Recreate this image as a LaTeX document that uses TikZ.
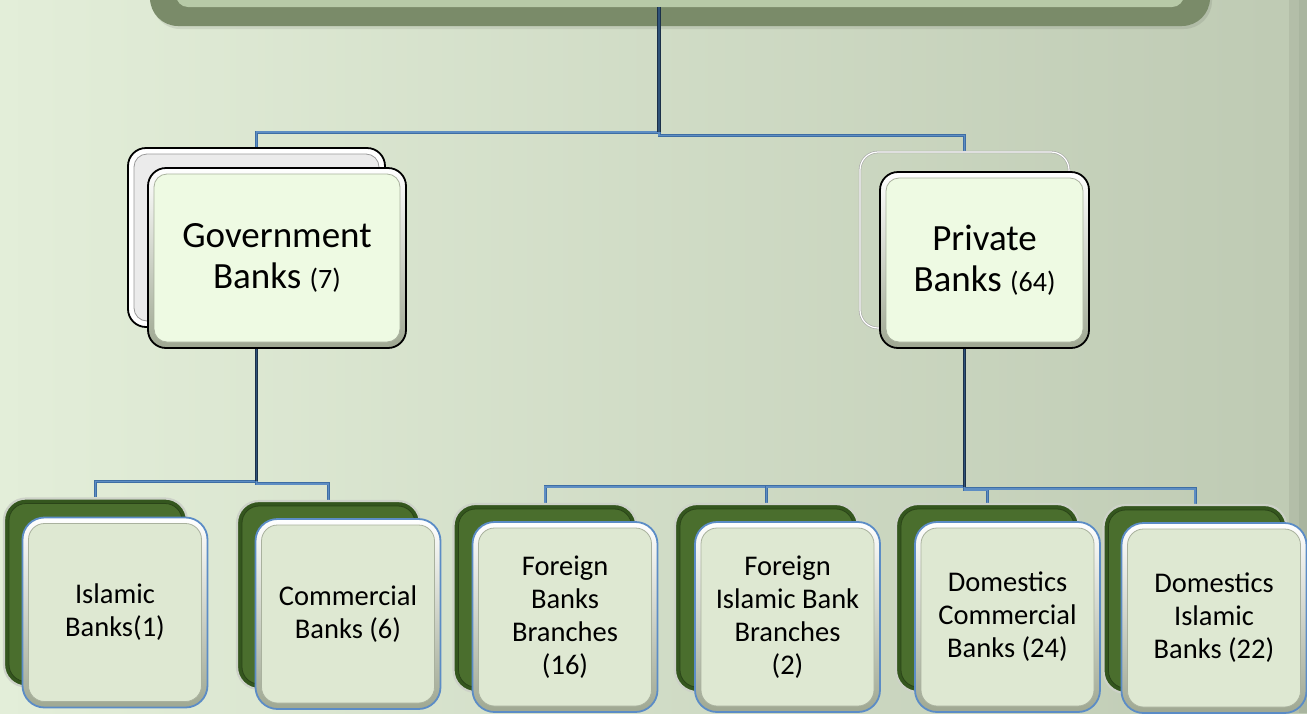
\documentclass[tikz,border=0pt]{standalone}
\usepackage{fontspec}
\setmainfont{Carlito}
\usetikzlibrary{calc}
\pgfdeclarelayer{bg}
\pgfdeclarelayer{links}
\pgfsetlayers{bg,links,main}

\definecolor{bgL}{HTML}{E3EED9}
\definecolor{bgR}{HTML}{BECAB3}
\definecolor{stripA}{HTML}{B3BEA8}
\definecolor{stripB}{HTML}{A9B59F}
\definecolor{topOuter}{HTML}{7A8B69}
\definecolor{topInner}{HTML}{B7CAA7}
\definecolor{lineDark}{HTML}{1B3049}
\definecolor{lineMid}{HTML}{2F5279}
\definecolor{lineEdge}{HTML}{3E6EA4}
\definecolor{lineBlue}{HTML}{5D8DC3}
\definecolor{frontFill}{HTML}{EEFAE3}
\definecolor{bevelDark}{HTML}{9FA892}
\definecolor{bevelEdge}{HTML}{A9B19E}
\definecolor{lowFill}{HTML}{DEE8D2}
\definecolor{blueEdge}{HTML}{5B8CC6}
\definecolor{darkGreen}{HTML}{34561E}
\definecolor{greenIn}{HTML}{4A6E2D}
\definecolor{greenEdge}{HTML}{2A4418}
\definecolor{rimGray}{HTML}{CDD2C8}

% inner bevel of a card: inset, fill, edge colour, corner radius
\newcommand\cardinset[4]{%
  \filldraw[fill=#2, draw=#3, line width=0.8pt, rounded corners=#4]
    ([shift={(#1,#1)}]path picture bounding box.south west) rectangle
    ([shift={(-#1,-#1)}]path picture bounding box.north east);}

\begin{document}
\begin{tikzpicture}[x=1pt,y=1pt,
  card/.style={rectangle, inner sep=0pt, align=center, text=black},
  headfront/.style={card, minimum width=258pt, minimum height=180pt,
    rounded corners=18pt, draw=black, line width=1.8pt,
    top color=white, bottom color=bevelDark,
    path picture={\cardinset{6pt}{frontFill}{bevelEdge}{13pt}},
    font=\fontsize{37}{41}\selectfont},
  govback/.style={card, minimum width=257pt, minimum height=179pt,
    rounded corners=18pt, draw=black, line width=1.8pt, fill=white,
    path picture={\cardinset{6pt}{black!8}{black!40}{13pt}}},
  privback/.style={card, minimum width=209pt, minimum height=176pt,
    rounded corners=18pt, draw=black!35, line width=0.6pt,
    double=white, double distance=1.2pt},
  lowfront/.style={card, minimum width=185pt, minimum height=190pt,
    rounded corners=22pt, draw=blueEdge, line width=1.8pt,
    top color=white, bottom color=bevelDark,
    path picture={\cardinset{6pt}{lowFill}{bevelEdge}{16pt}},
    font=\fontsize{28.5}{33}\selectfont},
  lowback/.style={card, minimum width=183pt, minimum height=188pt,
    rounded corners=22pt, draw=rimGray, line width=2.2pt, fill=darkGreen,
    path picture={\cardinset{5pt}{greenIn}{greenEdge}{17pt}}},
  conn/.style={draw=lineEdge, line width=0.8pt, double=lineBlue,
    double distance=1.4pt},
  trunk/.style={draw=lineDark, line width=1.1pt, double=lineMid,
    double distance=1.3pt}]
\useasboundingbox (0,0) rectangle (1307,-713);
\clip (0,0) rectangle (1307,-713);

\begin{pgfonlayer}{bg}
  % backdrop
  \shade[left color=bgL, right color=bgR] (0,0) rectangle (1307,-713);
  \fill[stripA] (1289,0) rectangle (1307,-713);
  \fill[stripB] (1299,0) rectangle (1307,-713);
  % heading banner, mostly above the frame
  \fill[black, opacity=0.08, rounded corners=28pt] (152,40) rectangle (1212,-29);
  \fill[topOuter, rounded corners=28pt] (150,40) rectangle (1210,-26);
  \node[rectangle, fill=topInner, rounded corners=12pt, minimum width=1008pt,
        minimum height=40pt, inner sep=0pt] (top) at (680,13) {};
\end{pgfonlayer}

% second level
\node[govback] (govb) at (256.5,-237.5) {};
\node[headfront] (gov) at (277,-258)
  {Government\\Banks {\fontsize{28}{41}\selectfont(7)}};
\node[privback] (privb) at (964.5,-240) {};
\node[headfront, minimum width=209pt, minimum height=176pt] (priv) at (984.5,-260)
  {Private\\Banks {\fontsize{28}{41}\selectfont(64)}};

% third level
\node[lowback] (islb) at (95.5,-592.5) {};
\node[lowfront] (isl) at (115,-612.5) {Islamic\\Banks(1)};
\node[lowback] (comb) at (328.5,-595) {};
\node[lowfront] (com) at (348,-614) {Commercial\\Banks (6)};
\node[lowback] (fbbb) at (545,-598) {};
\node[lowfront] (fbb) at (565,-617) {Foreign\\Banks\\Branches\\(16)};
\node[lowback] (fibb) at (766.5,-598) {};
\node[lowfront] (fib) at (787.5,-617) {Foreign\\Islamic Bank\\Branches\\(2)};
\node[lowback] (dcbb) at (987.5,-598) {};
\node[lowfront] (dcb) at (1007.5,-617) {Domestics\\Commercial\\Banks (24)};
\node[lowback] (dibb) at (1195,-599) {};
\node[lowfront] (dib) at (1214,-618) {Domestics\\Islamic\\Banks (22)};

% bar levels of the connectors
\coordinate (tj) at (659,0);
\coordinate (gbar) at ($(govb.north)+(0,15)$);
\coordinate (pbar) at ($(privb.north)+(0,16)$);
\coordinate (lbar) at ($(islb.north)+(0,16)$);
\coordinate (rbar) at ($(fbbb.north)+(0,16)$);
\begin{pgfonlayer}{links}
  \draw[conn] (top.south -| tj) |- (gbar) -- (govb.north);
  \draw[conn] (top.south -| tj) |- (pbar) -- (privb.north);
  \draw[conn] (govb.south) |- (lbar) -- (islb.north);
  \draw[conn] (govb.south) |- ($(comb.north)+(0,16)$) -- (comb.north);
  \draw[conn] (privb.south) |- (rbar) -- (fbbb.north);
  \draw[conn] (privb.south) |- ($(fibb.north)+(0,16)$) -- (fibb.north);
  \draw[conn] (privb.south) |- ($(dcbb.north)+(0,13)$) -- (dcbb.north);
  \draw[conn] (privb.south) |- ($(dibb.north)+(0,15)$) -- (dibb.north);
  % darker vertical trunks
  \draw[trunk] (top.south -| tj) -- (gbar -| tj);
  \draw[trunk] (govb.south) -- (lbar -| govb.south);
  \draw[trunk] (privb.south) -- (rbar -| privb.south);
\end{pgfonlayer}
\end{tikzpicture}
\end{document}
